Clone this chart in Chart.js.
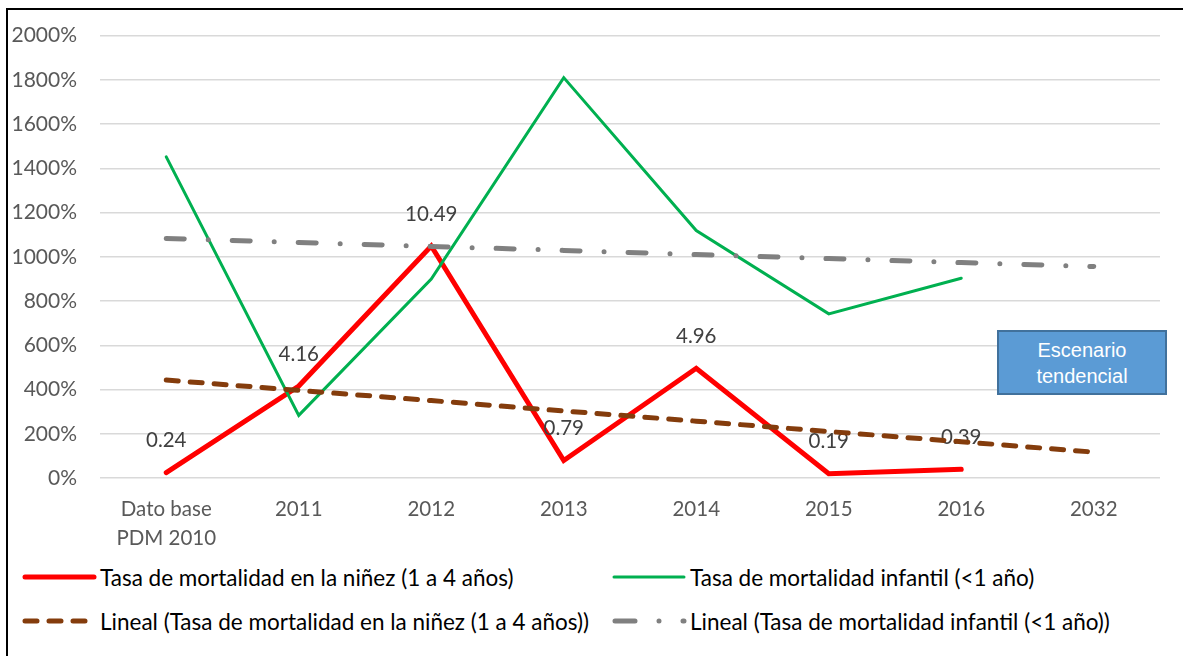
<!DOCTYPE html>
<html>
<head>
<meta charset="utf-8">
<script src="https://cdn.jsdelivr.net/npm/chart.js@4.4.1/dist/chart.umd.min.js"></script>
<style>
  html, body { margin: 0; padding: 0; background: #fff; }
  #wrap { position: relative; width: 1183px; height: 656px; overflow: hidden; font-family: Lato, "Liberation Sans", sans-serif; }
  #frameTop { position: absolute; left: 6px; top: 8px; width: 1177px; height: 2px; background: #000; }
  #frameLeft { position: absolute; left: 6px; top: 8px; width: 2px; height: 648px; background: #000; }
  #chartBox { position: absolute; left: 0; top: 0; width: 1183px; height: 560px; }
  #escenario {
    position: absolute; left: 997px; top: 330px; width: 166px; height: 61px;
    background: #5B9BD5; border: 2px solid #41719C; color: #fff;
    font-family: "Liberation Sans", Arial, sans-serif; font-size: 20px; line-height: 26px;
    text-align: center; display: flex; flex-direction: column; justify-content: center;
  }
  .leg { position: absolute; height: 30px; display: flex; align-items: center; font-size: 22.5px; color: #000; white-space: nowrap; }
  .leg svg { margin-right: 3px; }
</style>
</head>
<body>
<div id="wrap">
  <div id="chartBox"><canvas id="mortChart"></canvas></div>
  <div id="frameTop"></div>
  <div id="frameLeft"></div>
  <div id="escenario"><span>Escenario</span><span>tendencial</span></div>
  <div id="legend"></div>
</div>

<script>
// ------------------------------------------------------------
// DATA
// ------------------------------------------------------------
const categories = [["Dato base", "PDM 2010"], "2011", "2012", "2013", "2014", "2015", "2016", "2032"];

const ninezValues    = [0.24, 4.16, 10.49, 0.79, 4.96, 0.19, 0.39, null];
const infantilValues = [14.52, 2.83, 8.99, 18.1, 11.19, 7.42, 9.03, null];

// trend lines as they appear on the picture
const ninezTrend    = [4.43, 3.96, 3.50, 3.03, 2.57, 2.10, 1.64, 1.17];
const infantilTrend = [10.83, 10.65, 10.47, 10.29, 10.10, 9.92, 9.74, 9.56];

const yMax = 20;
const yStep = 2;

const seriesNames = [
  "Tasa de mortalidad en la niñez (1 a 4 años)",
  "Tasa de mortalidad infantil (<1 año)",
  "Lineal (Tasa de mortalidad en la niñez (1 a 4 años))",
  "Lineal (Tasa de mortalidad infantil (<1 año))"
];

// ------------------------------------------------------------
// DATA LABELS on the first series (drawn right after it)
// ------------------------------------------------------------
const pointLabels = {
  id: "pointLabels",
  afterDatasetDraw(chart, args) {
    if (args.index !== 0) return;
    const ctx = chart.ctx;
    const ds = chart.data.datasets[0];
    ctx.save();
    ctx.font = "20.5px Lato";
    ctx.fillStyle = "#404040";
    ctx.textAlign = "center";
    ctx.textBaseline = "middle";
    args.meta.data.forEach((pt, i) => {
      const v = ds.data[i];
      if (v == null) return;
      ctx.fillText(v.toFixed(2), pt.x, pt.y - 32);
    });
    ctx.restore();
  }
};

// ------------------------------------------------------------
// CHART
// ------------------------------------------------------------
const ctx = document.getElementById("mortChart").getContext("2d");

new Chart(ctx, {
  type: "line",
  data: {
    labels: categories,
    datasets: [
      {
        label: seriesNames[0],
        data: ninezValues,
        borderColor: "#FF0000",
        borderWidth: 5,
        borderCapStyle: "round",
        pointRadius: 0,
        tension: 0,
        order: 4
      },
      {
        label: seriesNames[1],
        data: infantilValues,
        borderColor: "#00B050",
        borderWidth: 3,
        borderCapStyle: "round",
        pointRadius: 0,
        tension: 0,
        order: 3
      },
      {
        label: seriesNames[2],
        data: ninezTrend,
        borderColor: "#843C0C",
        borderWidth: 5,
        borderCapStyle: "round",
        borderDash: [12, 12],
        pointRadius: 0,
        tension: 0,
        order: 2
      },
      {
        label: seriesNames[3],
        data: infantilTrend,
        borderColor: "#808080",
        borderWidth: 5,
        borderCapStyle: "round",
        borderDash: [18, 24, 0, 24],
        pointRadius: 0,
        tension: 0,
        order: 1
      }
    ]
  },
  options: {
    responsive: true,
    maintainAspectRatio: false,
    animation: false,
    layout: { padding: { left: 0, right: 23, top: 33, bottom: 0 } },
    plugins: {
      legend: { display: false },
      tooltip: { enabled: false }
    },
    scales: {
      x: {
        offset: true,
        grid: { display: false, drawTicks: false },
        border: { display: false },
        ticks: {
          color: "#595959",
          font: { family: "Lato", size: 20.5, lineHeight: 1.4 },
          padding: 17,
          maxRotation: 0,
          autoSkip: false
        },
        afterFit: scale => { scale.height = 82; }
      },
      y: {
        min: 0,
        max: yMax,
        grid: { color: "#D9D9D9", lineWidth: 1.5, drawTicks: false },
        border: { display: false },
        ticks: {
          stepSize: yStep,
          color: "#595959",
          font: { family: "Lato", size: 21 },
          padding: 23,
          callback: v => Math.round(v * 100) + "%"
        },
        afterFit: scale => { scale.width = 100; }
      }
    }
  },
  plugins: [pointLabels]
});

// ------------------------------------------------------------
// LEGEND (2 x 2 grid under the plot)
// ------------------------------------------------------------
const legendItems = [
  { text: seriesNames[0], x: 22, y: 562, svg: '<line x1="3" y1="15" x2="72" y2="15" stroke="#FF0000" stroke-width="5" stroke-linecap="round"/>' },
  { text: seriesNames[1], x: 612, y: 562, svg: '<line x1="2" y1="15" x2="72" y2="15" stroke="#00B050" stroke-width="3" stroke-linecap="round"/>' },
  { text: seriesNames[2], x: 22, y: 606, svg: '<line x1="3" y1="15" x2="66" y2="15" stroke="#843C0C" stroke-width="5" stroke-linecap="round" stroke-dasharray="12 12"/>' },
  { text: seriesNames[3], x: 612, y: 606, svg: '<line x1="3" y1="15" x2="72" y2="15" stroke="#808080" stroke-width="5" stroke-linecap="round" stroke-dasharray="20 24 0 24"/>' }
];

const legendBox = document.getElementById("legend");
legendItems.forEach(item => {
  const el = document.createElement("div");
  el.className = "leg";
  el.style.left = item.x + "px";
  el.style.top = item.y + "px";
  el.innerHTML = `<svg width="75" height="30">${item.svg}</svg><span>${item.text.replace("<", "&lt;")}</span>`;
  legendBox.appendChild(el);
});
</script>
</body>
</html>
